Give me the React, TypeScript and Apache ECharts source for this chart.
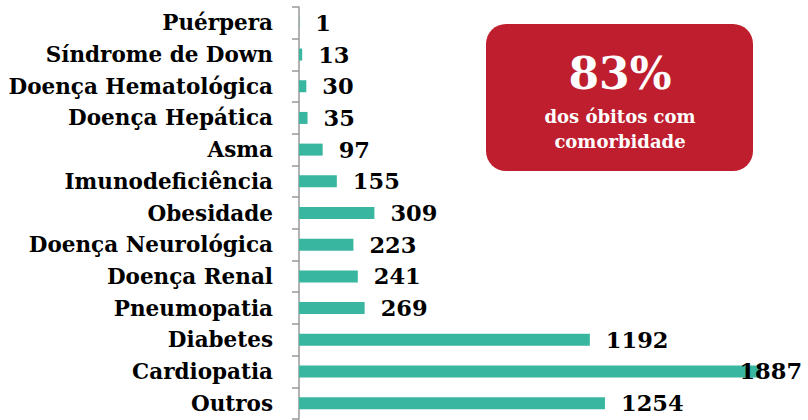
import React, { useEffect, useRef } from "react";
import * as echarts from "echarts";

const categories = [
  "Puérpera",
  "Síndrome de Down",
  "Doença Hematológica",
  "Doença Hepática",
  "Asma",
  "Imunodeficiência",
  "Obesidade",
  "Doença Neurológica",
  "Doença Renal",
  "Pneumopatia",
  "Diabetes",
  "Cardiopatia",
  "Outros",
];
const values = [1, 13, 30, 35, 97, 155, 309, 223, 241, 269, 1192, 1887, 1254];
const boxTitle = "83%";
const boxLines = ["dos óbitos com", "comorbidade"];

const FONT = "'DejaVu Serif', serif";

export default function App() {
  const ref = useRef<HTMLDivElement>(null);
  useEffect(() => {
    if (!ref.current) return;
    const chart = echarts.init(ref.current, null, { renderer: "svg" });
    const maxVal = Math.max(...values);
    chart.setOption({
      animation: false,
      grid: { left: 299, right: 21, top: 7, bottom: 1, containLabel: false },
      xAxis: {
        type: "value",
        min: 0,
        max: 2000,
        show: false,
      },
      yAxis: {
        type: "category",
        data: categories,
        inverse: true,
        axisLine: { show: true, lineStyle: { color: "#999999", width: 1.5 } },
        axisTick: { show: true, length: 7, lineStyle: { color: "#999999", width: 1.5 } },
        axisLabel: {
          margin: 26,
          color: "#000000",
          fontFamily: FONT,
          fontWeight: "bold",
          fontSize: 21.5,
        },
      },
      series: [
        {
          type: "bar",
          data: values.map((v) =>
            v === maxVal
              ? { value: v, label: { offset: [-36, 0] } }
              : v
          ),
          barWidth: 12,
          itemStyle: { color: "#38B6A0" },
          label: {
            show: true,
            position: "right",
            distance: 16,
            color: "#000000",
            fontFamily: FONT,
            fontWeight: "bold",
            fontSize: 22.5,
          },
        },
      ],
      graphic: [
        {
          type: "rect",
          left: 486,
          top: 24,
          shape: { width: 267, height: 147, r: 20 },
          style: { fill: "#BE1E2D" },
        },
        {
          type: "text",
          x: 620,
          y: 73,
          style: {
            text: boxTitle,
            fill: "#ffffff",
            font: `bold 44px ${FONT}`,
            textAlign: "center",
            textVerticalAlign: "middle",
          },
        },
        {
          type: "text",
          x: 620,
          y: 116,
          style: {
            text: boxLines[0],
            fill: "#ffffff",
            font: `bold 18px ${FONT}`,
            textAlign: "center",
            textVerticalAlign: "middle",
          },
        },
        {
          type: "text",
          x: 620,
          y: 141,
          style: {
            text: boxLines[1],
            fill: "#ffffff",
            font: `bold 18px ${FONT}`,
            textAlign: "center",
            textVerticalAlign: "middle",
          },
        },
      ],
    });
    return () => chart.dispose();
  }, []);
  return (
    <div
      ref={ref}
      style={{ position: "fixed", left: 0, top: 0, width: 808, height: 420, background: "#ffffff" }}
    />
  );
}
